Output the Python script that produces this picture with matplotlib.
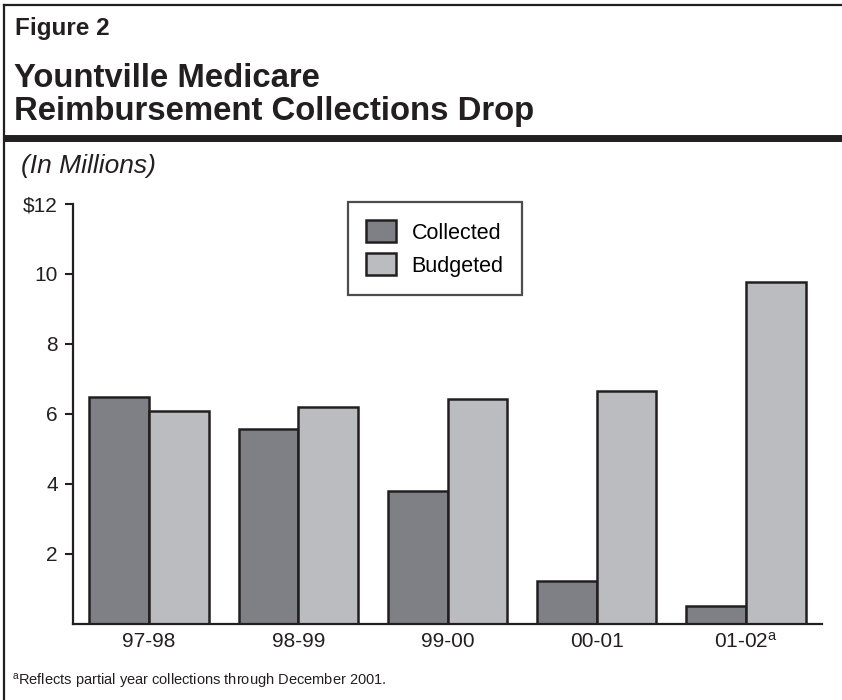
import numpy as np
import matplotlib
matplotlib.use("Agg")
import matplotlib.pyplot as plt
from matplotlib.lines import Line2D
from matplotlib.patches import Patch

plt.rcParams["font.family"] = ["Liberation Sans", "DejaVu Sans"]
plt.rcParams["mathtext.default"] = "regular"

# Data (in millions)
years = ["97-98", "98-99", "99-00", "00-01", "01-02$^{a}$"]
collected = [6.47, 5.55, 3.79, 1.22, 0.51]
budgeted = [6.09, 6.20, 6.42, 6.66, 9.77]
series_names = ["Collected", "Budgeted"]
y_ticks = [2, 4, 6, 8, 10, 12]
y_tick_labels = ["2", "4", "6", "8", "10", "$12"]

ink = "#231f20"
c_collected = "#7f8085"
c_budgeted = "#bbbcc0"

W, H = 842, 700
fig = plt.figure(figsize=(W / 100, H / 100), dpi=100)


def fx(px):
    return px / W


def fy(py):
    return 1 - py / H


# Frame lines of the figure box
fig.add_artist(Line2D([fx(4), 1], [fy(5), fy(5)], color=ink, lw=1.6, transform=fig.transFigure))
fig.add_artist(Line2D([fx(4), fx(4)], [fy(5), 0], color=ink, lw=1.6, transform=fig.transFigure))
fig.add_artist(Line2D([fx(4), 1], [fy(138), fy(138)], color=ink, lw=5.0,
                      transform=fig.transFigure, solid_capstyle="butt"))

# Header text
fig.text(fx(15), fy(35), "Figure 2", fontsize=17.5, fontweight="bold", color=ink, va="baseline")
fig.text(fx(14), fy(87), "Yountville Medicare", fontsize=23.7, fontweight="bold", color=ink, va="baseline")
fig.text(fx(14), fy(120), "Reimbursement Collections Drop", fontsize=23.7, fontweight="bold",
         color=ink, va="baseline")
fig.text(fx(21), fy(173), "(In Millions)", fontsize=19, style="italic", color=ink, va="baseline")
fig.text(fx(12), fy(686), "$^{a}$Reflects partial year collections through December 2001.",
         fontsize=10.5, color=ink, va="baseline")

# Chart axes
ax = fig.add_axes([fx(73), fy(623.5), fx(822) - fx(73), fy(204) - fy(623.5)])
x = np.arange(len(years))
width = 0.40
ax.bar(x - width / 2, collected, width, color=c_collected, edgecolor=ink, linewidth=1.8, zorder=2)
ax.bar(x + width / 2, budgeted, width, color=c_budgeted, edgecolor=ink, linewidth=1.8, zorder=2)

ax.set_xlim(-0.51, 4.51)
ax.set_ylim(0, 12)
ax.set_yticks(y_ticks)
ax.set_yticklabels(y_tick_labels)
ax.set_xticks(x)
ax.set_xticklabels(years)
ax.tick_params(axis="y", length=6, width=1.5, direction="out", pad=5, labelsize=15, colors=ink)
ax.tick_params(axis="x", length=0, pad=6, labelsize=15, colors=ink)

for side in ["top", "right"]:
    ax.spines[side].set_visible(False)
ax.spines["left"].set_bounds(0, 12)
ax.spines["left"].set_linewidth(1.6)
ax.spines["bottom"].set_linewidth(1.6)
ax.spines["left"].set_color(ink)
ax.spines["bottom"].set_color(ink)

handles = [Patch(facecolor=c_collected, edgecolor=ink, linewidth=1.8),
           Patch(facecolor=c_budgeted, edgecolor=ink, linewidth=1.8)]
leg = fig.legend(handles, series_names, loc="upper left",
                 bbox_to_anchor=(fx(348), fy(202)), bbox_transform=fig.transFigure,
                 fontsize=15.5, frameon=True, fancybox=False, handlelength=1.4,
                 handleheight=1.2, handletextpad=0.7, labelspacing=0.45,
                 borderpad=0.85, borderaxespad=0)
leg.get_frame().set_edgecolor(ink)
leg.get_frame().set_linewidth(1.6)

fig.savefig("out.png", dpi=100)
